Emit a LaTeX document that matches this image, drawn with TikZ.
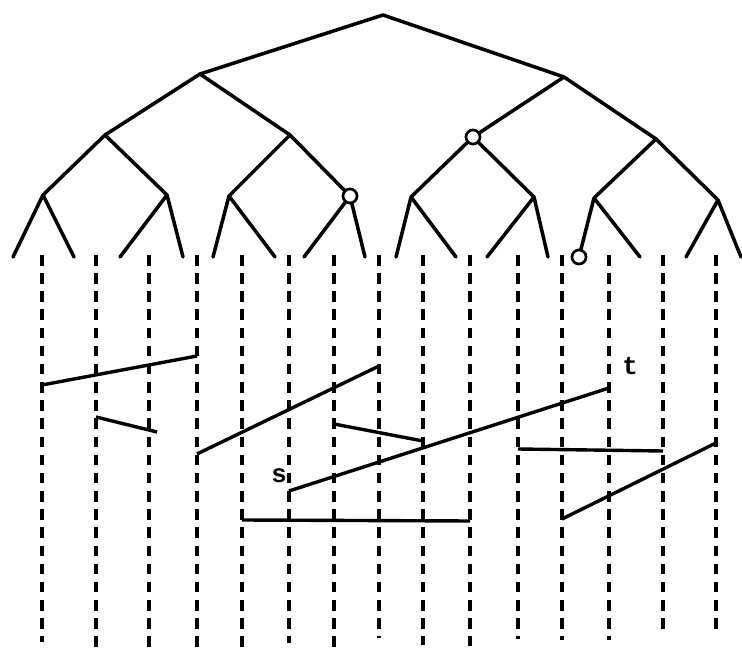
\documentclass[tikz,border=0pt]{standalone}
\usepackage{fontspec}
\newfontfamily\labelfont{Liberation Mono}

\begin{document}
\begin{tikzpicture}[x=0.03cm,y=-0.03cm,
    branch/.style={line width=3pt,line cap=round,line join=round},
    wire/.style={line width=3.2pt,dash pattern=on 9pt off 6.5pt},
    rung/.style={line width=2.9pt},
    hole/.style={circle,draw,line width=2.3pt,fill=white,inner sep=0pt,minimum size=12pt},
    tag/.style={font=\labelfont\bfseries\fontsize{22}{22}\selectfont,inner sep=0pt}]
  \useasboundingbox (0,0) rectangle (742,653);
  % tree
  \coordinate (r) at (383,15);
  \coordinate (a) at (200,74);   \coordinate (b) at (564,77);
  \coordinate (aa) at (105,135); \coordinate (ab) at (290,135);
  \coordinate (ba) at (473,137); \coordinate (bb) at (656,139);
  \coordinate (aaa) at (43,195); \coordinate (aab) at (167,195);
  \coordinate (aba) at (229,196); \coordinate (abb) at (350,196);
  \coordinate (baa) at (411,197); \coordinate (bab) at (534,197);
  \coordinate (bba) at (594,198); \coordinate (bbb) at (718,200);
  \draw[branch] (a) -- (r) -- (b);
  \draw[branch] (aa) -- (a) -- (ab);
  \draw[branch] (ba) -- (b) -- (bb);
  \draw[branch] (aaa) -- (aa) -- (aab);
  \draw[branch] (aba) -- (ab) -- (abb);
  \draw[branch] (baa) -- (ba) -- (bab);
  \draw[branch] (bba) -- (bb) -- (bbb);
  % leaves
  \foreach \p/\l/\r in {aaa/13/74, aab/120/183, aba/213/275, abb/304/365,
                        baa/396/456, bab/487/548, bba/579/640, bbb/686/741}{
    \coordinate (\p-l) at (\l,257);
    \coordinate (\p-r) at (\r,257);
    \draw[branch] (\p-l) -- (\p) -- (\p-r);
  }
  \node[hole] (c1) at (abb) {};
  \node[hole] (c2) at (ba) {};
  \node[hole] (c3) at (bba-l) {};
  % vertical dashed lines
  \foreach \x/\y [count=\i] in {42/642, 96/653, 149/653, 197/653, 242/653,
      289/643, 334/653, 379/638, 423/645, 470/646, 518/639, 562/640,
      609/640, 663/633, 716/634}{
    \coordinate (top\i) at (\x,255);
    \coordinate (bot\i) at (\x,\y);
    \draw[wire] (top\i) -- (bot\i);
  }
  % segments between the lines
  \coordinate (p1) at (42,385);  \coordinate (q1) at (197,356);
  \coordinate (p2) at (96,417);  \coordinate (q2) at (157,432);
  \coordinate (p3) at (197,454); \coordinate (q3) at (379,366);
  \coordinate (p4) at (334,424); \coordinate (q4) at (423,441);
  \coordinate (s) at (289,491);  \coordinate (t) at (609,388);
  \coordinate (p6) at (518,449); \coordinate (q6) at (663,451);
  \coordinate (p7) at (562,519); \coordinate (q7) at (716,443);
  \coordinate (p8) at (242,520); \coordinate (q8) at (470,521);
  \foreach \p/\q in {p1/q1, p2/q2, p3/q3, p4/q4, s/t, p6/q6, p7/q7, p8/q8}
    \draw[rung] (\p) -- (\q);
  \node[tag] (slabel) at (279,476) {s};
  \node[tag] (tlabel) at (630,366) {t};
\end{tikzpicture}
\end{document}
